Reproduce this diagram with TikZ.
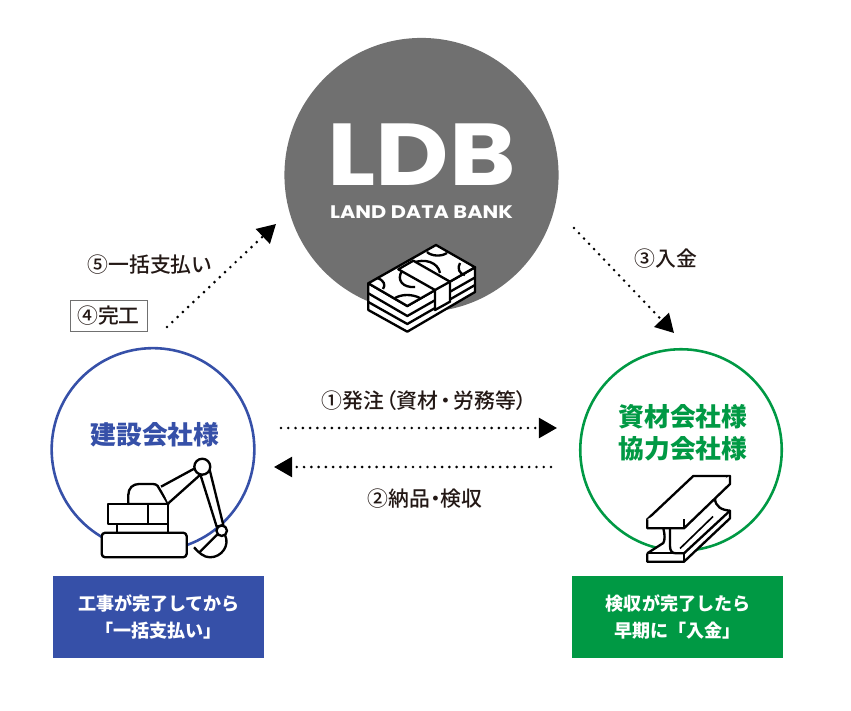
\documentclass[tikz,border=0pt]{standalone}
\usepackage{fontspec}
\setmainfont{Noto Sans CJK JP}
\newfontfamily\labelfont[RawFeature=+palt]{Noto Sans CJK JP Medium}
\newfontfamily\logofont[FakeStretch=1.15]{Poppins}
\usetikzlibrary{arrows.meta}
\definecolor{ldbgray}{HTML}{707070}
\definecolor{ldbblue}{HTML}{3650A8}
\definecolor{ldbgreen}{HTML}{009944}
\definecolor{ldbink}{HTML}{231815}
\begin{document}
\begin{tikzpicture}[x=0.03cm,y=-0.03cm]
    \tikzstyle{marrs}=[line width=2.5pt,dash pattern=on 0pt off 6.2pt,line cap=round,-{Triangle[length=15.5pt,width=17pt]}]
    \tikzstyle{lbl}=[text=ldbink,inner sep=0pt,font=\labelfont\fontsize{17.8}{19}\selectfont]
    \tikzstyle{ttl}=[align=center,inner sep=0pt,font=\bfseries\fontsize{22}{27.5}\selectfont]
    \tikzstyle{msg}=[align=center,text=white,inner sep=0pt,minimum width=180pt,minimum height=70pt,font=\bfseries\fontsize{15.4}{22.5}\selectfont]
    \tikzstyle{icon}=[line width=2pt,line join=round,draw=black,fill=white]
    \tikzstyle{iconline}=[line width=2pt,line join=round,draw=black]

    \useasboundingbox (0,0) rectangle (851,711);

    \node[circle,fill=ldbgray,minimum size=234pt,inner sep=0pt] (ldb) at (421.5,175) {};
    \node[circle,draw=ldbblue,line width=2.2pt,fill=white,minimum size=173pt,inner sep=0pt] (builder) at (153,449.5) {};
    \node[circle,draw=ldbgreen,line width=2.2pt,fill=white,minimum size=172pt,inner sep=0pt] (supplier) at (681,450) {};

    \node[text=white,inner sep=0pt,font=\logofont\bfseries\fontsize{75}{75}\selectfont] (logo) at (421.5,155) {LDB};
    \node[text=white,inner sep=0pt,font=\logofont\bfseries\fontsize{15.5}{16}\selectfont] (logosub) at (421.5,212) {LAND DATA BANK};

    \node[ttl,text=ldbblue] (buildername) at (155,435) {建設会社様};
    \node[ttl,text=ldbgreen] (suppliername) at (683,433) {資材会社様\\協力会社様};

    \node[msg,fill=ldbblue] (buildermsg) at (158.5,617) {\kern1pt工事が完了してから\\「一括支払い」};
    \node[msg,fill=ldbgreen] (suppliermsg) at (677.5,617) {\kern1pt検収が完了したら\\早期に「入金」};

    \node[lbl] (pay) at (149.5,265) {⑤一括支払い};
    \node[lbl,draw=ldbgray,line width=0.5pt,minimum width=65.5pt,minimum height=26pt] (done) at (108.5,316) {④完工};
    \node[lbl] (deposit) at (666,259) {③入金};
    \node[lbl] (order) at (424,401) {①発注\kern2pt（資材\kern2pt・\kern2pt労務等）};
    \node[lbl] (deliver) at (425,499) {②納品・検収};

    % arrow ends
    \coordinate (a1) at (167,327);
    \coordinate (a2) at (276,224);
    \coordinate (b1) at (574,228);
    \coordinate (b2) at (674,333);
    \coordinate (c1) at (281,428);
    \coordinate (c2) at (557,428);
    \coordinate (d1) at (551,467);
    \coordinate (d2) at (274,467);
    \draw[marrs] (a1) -- (a2);
    \draw[marrs] (b1) -- (b2);
    \draw[marrs] (c1) -- (c2);
    \draw[marrs] (d1) -- (d2);

    % money
    \draw[icon] (368.3,283.3) -- (368.3,310) -- (407.3,331.7) -- (475,292) -- (475,267.3) -- (407.3,306) -- cycle;
    \draw[iconline] (368.3,293.3) -- (407.3,316) -- (475,277.5);
    \draw[iconline] (368.3,302) -- (407.3,324) -- (475,285);
    \draw[icon] (368.3,283.3) -- (436,245) -- (475,267.3) -- (407.3,306) -- cycle;
    \draw[iconline] (377,278) .. controls (384,280) and (386,285) .. (383,289);
    \draw[iconline] (395,298) .. controls (402,294) and (412,294) .. (420,298);
    \draw[iconline] (427,252) .. controls (431,256) and (441,257) .. (447,253);
    \draw[iconline] (460,263) .. controls (457,268) and (459,274) .. (465,275);
    \draw[iconline] (402,271) .. controls (396,280) and (403,288) .. (415,287);
    \draw[iconline] (413,263) .. controls (424,258) and (438,262) .. (440,273);
    \draw[icon] (398.3,269.3) -- (413.3,260.7) -- (450,281.7) -- (450,301.7) -- (435,310) -- (435,290) -- cycle;
    \draw[iconline] (435,290) -- (450,281.7);

    % excavator
    \draw[icon] (128.3,504) -- (128.3,495) .. controls (128.3,488) and (133,484) .. (139,484) -- (153,484) .. controls (157,484) and (159,487) .. (160,490) -- (168.3,504) -- cycle;
    \draw[icon] (161,486.7) -- (196.7,467.3) -- (200,475) -- (168.3,503.3);
    \draw[icon] (116.7,524) rectangle (168.3,532.7);
    \draw[icon] (108.3,504) rectangle (168.3,524);
    \draw[iconline] (148.3,504) -- (148.3,524);
    \draw[icon,rounded corners=3pt] (101.7,532.7) rectangle (186.7,557.3);
    \draw[icon] (194,547.3) .. controls (199,553) and (204,557.3) .. (210,557.3) .. controls (222,557.3) and (230,545) .. (225,535) -- (216.7,535) -- (200,551.7);
    \draw[icon] (200,473.3) -- (216.7,526.7) -- (223.3,525) -- (209.3,468.3);
    \draw[icon] (202.3,466.7) circle (6.8pt);
    \draw[icon] (221.7,530.7) circle (4.5pt);

    % steel beam
    \draw[icon,draw=none] (647.3,553.3) -- (647.3,561.7) -- (684,561.7) -- (730,518.3) -- (730,510) -- (715,505) -- (715,490) -- (684,528.3) -- (663.3,528.3) -- (663.3,542) -- cycle;
    \draw[iconline] (647.3,553.3) -- (647.3,561.7) -- (684,561.7) -- (730,518.3) -- (730,510.7) .. controls (722,510) and (715,507) .. (715,498);
    \draw[icon] (647.3,519.3) -- (693.3,476) -- (730,476) -- (684,519.3) -- cycle;
    \draw[icon] (647.3,519.3) -- (647.3,528.3) -- (684,528.3) -- (730,484) -- (730,476);
    \draw[iconline] (684,519.3) -- (684,528.3);
    \draw[iconline] (663.3,528.3) .. controls (665,535) and (665,540) .. (663.3,543) -- (647.3,553.3);
    \draw[iconline] (670,528.3) -- (670,546) .. controls (670,551) and (672,553.3) .. (676,553.3) -- (684,553.3) -- (730,510.7);
    \draw[iconline] (647.3,553.3) -- (684,553.3) -- (684,561.7);
    \draw[line width=1.4pt] (680,548.5) -- (713,516.5);
\end{tikzpicture}
\end{document}
